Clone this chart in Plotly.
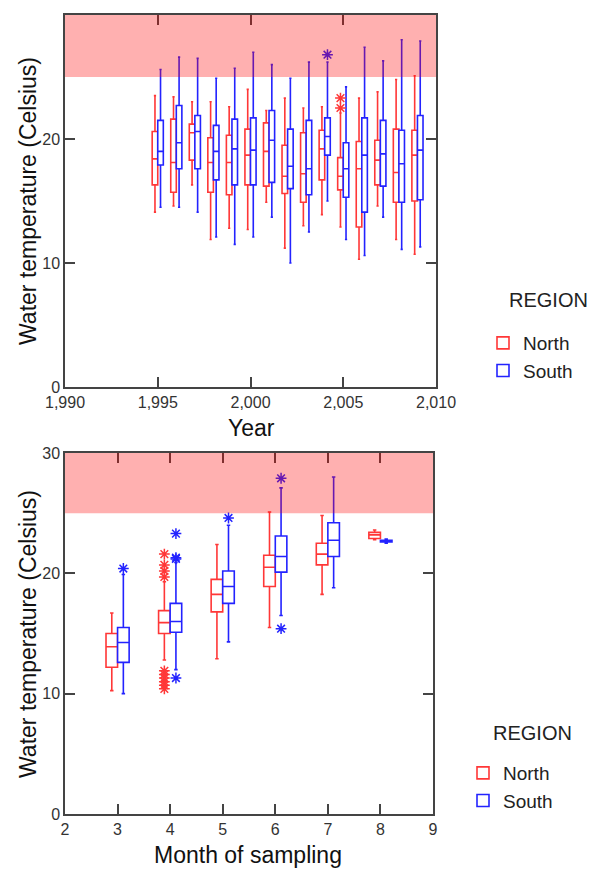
import plotly.graph_objects as go

# Year panel (1995-2009), box statistics
years = list(range(1995, 2010))
north_year_low = [14.1, 14.6, 16.3, 11.9, 12.8, 12.7, 14.9, 11.2, 13.0, 13.9, 12.9, 10.3, 14.6, 11.9, 10.7]
north_year_q1 = [16.3, 15.7, 18.3, 15.7, 15.5, 16.3, 16.2, 15.6, 14.9, 16.7, 15.9, 12.9, 16.3, 14.9, 15.0]
north_year_med = [18.4, 18.1, 20.5, 18.1, 18.1, 18.7, 19.0, 17.0, 17.2, 19.2, 17.0, 17.6, 18.3, 17.3, 18.7]
north_year_q3 = [20.6, 21.6, 21.2, 20.1, 20.3, 20.8, 21.3, 19.5, 20.5, 20.7, 18.5, 19.8, 19.9, 20.8, 20.7]
north_year_high = [23.5, 23.4, 23.0, 23.0, 22.6, 24.0, 22.3, 23.3, 22.5, 22.6, 22.1, 23.3, 23.8, 24.8, 25.1]

south_year_low = [14.5, 14.5, 14.1, 12.1, 11.5, 12.1, 13.7, 10.0, 12.5, 15.0, 11.9, 10.6, 13.7, 11.1, 11.3]
south_year_q1 = [17.9, 17.6, 17.6, 16.7, 16.3, 16.3, 16.5, 16.0, 15.5, 18.7, 15.3, 14.1, 16.2, 14.9, 15.1]
south_year_med = [19.0, 19.7, 20.6, 19.0, 19.2, 19.1, 19.9, 17.8, 17.6, 20.2, 17.6, 18.7, 18.8, 18.0, 19.1]
south_year_q3 = [21.5, 22.7, 21.9, 21.1, 21.6, 21.7, 22.3, 20.8, 21.5, 21.7, 19.7, 21.7, 21.5, 20.7, 21.9]
south_year_high = [25.6, 26.6, 26.5, 24.9, 25.7, 27.0, 26.0, 24.9, 26.2, 26.2, 24.2, 27.4, 26.3, 28.0, 27.9]

north_year_out_x = [2005, 2005]
north_year_out_y = [23.3, 22.5]
south_year_out_x = [2004]
south_year_out_y = [26.8]

# Month panel (3-8)
months = [3, 4, 5, 6, 7, 8]
north_month_low = [10.25, 12.8, 12.9, 15.5, 18.25, 22.8]
north_month_q1 = [12.2, 15.0, 16.8, 18.9, 20.7, 22.9]
north_month_med = [13.9, 15.9, 18.25, 20.5, 21.6, 23.2]
north_month_q3 = [15.0, 16.9, 19.5, 21.5, 22.5, 23.4]
north_month_high = [16.7, 19.3, 22.4, 25.1, 24.8, 23.6]

south_month_low = [10.0, 12.0, 14.3, 16.5, 18.8, 22.5]
south_month_q1 = [12.6, 15.1, 17.5, 20.1, 21.4, 22.6]
south_month_med = [14.25, 16.0, 18.9, 21.4, 22.75, 22.65]
south_month_q3 = [15.5, 17.5, 20.2, 23.1, 24.2, 22.75]
south_month_high = [19.9, 20.9, 24.0, 27.1, 28.0, 22.85]

north_month_out_x = [4, 4, 4, 4, 4, 4, 4, 4, 4, 4]
north_month_out_y = [21.6, 20.7, 20.2, 19.7, 11.9, 11.6, 11.3, 11.0, 10.7, 10.4]
south_month_out_x = [3, 4, 4, 4, 4, 5, 6, 6]
south_month_out_y = [20.4, 23.3, 21.3, 21.2, 11.3, 24.6, 27.9, 15.4]

RED = "rgb(255,55,55)"
BLUE = "rgb(35,35,255)"
FONT = "Liberation Sans"

fig = go.Figure()


def add_region(name, color, xs, low, q1, med, q3, high, out_x, out_y,
               offset, width, xa, ya, legend, cap):
    fig.add_trace(go.Box(
        x=[v + offset for v in xs], lowerfence=low, q1=q1, median=med,
        q3=q3, upperfence=high, name=name, width=width,
        line=dict(color=color, width=1.6), fillcolor="white",
        whiskerwidth=cap, boxpoints=False, xaxis=xa, yaxis=ya,
        legend=legend, hoverinfo="skip"))
    fig.add_trace(go.Scatter(
        x=[v + offset for v in out_x], y=out_y, mode="markers",
        marker=dict(symbol="asterisk-open", size=9, color=color,
                    line=dict(color=color, width=1.5)),
        showlegend=False, xaxis=xa, yaxis=ya, hoverinfo="skip"))


add_region("North", RED, years, north_year_low, north_year_q1, north_year_med,
           north_year_q3, north_year_high, north_year_out_x, north_year_out_y,
           -0.15, 0.3, "x", "y", "legend", 0.4)
add_region("South", BLUE, years, south_year_low, south_year_q1, south_year_med,
           south_year_q3, south_year_high, south_year_out_x, south_year_out_y,
           0.15, 0.3, "x", "y", "legend", 0.4)
add_region("North", RED, months, north_month_low, north_month_q1, north_month_med,
           north_month_q3, north_month_high, north_month_out_x, north_month_out_y,
           -0.11, 0.22, "x2", "y2", "legend2", 0.3)
add_region("South", BLUE, months, south_month_low, south_month_q1, south_month_med,
           south_month_q3, south_month_high, south_month_out_x, south_month_out_y,
           0.11, 0.22, "x2", "y2", "legend2", 0.3)

axis_style = dict(showgrid=False, zeroline=False, showline=True, linecolor="#444",
                  linewidth=1.5, ticks="inside", ticklen=10, tickwidth=1.5,
                  tickcolor="#444", mirror="ticks", automargin=False,
                  tickfont=dict(family=FONT, size=16, color="#333"))
legend_font = dict(family=FONT, size=19, color="#222")

W, H = 595, 869
PAGE_PAD = 8  # browser body margin around the plot div


def fx(px):
    return (px - PAGE_PAD) / W


def fy(py):
    return 1 - (py - PAGE_PAD) / H


def paper_text(text, px, py, size=20, angle=0, color="#222"):
    return dict(text=text, x=fx(px), y=fy(py), xref="paper", yref="paper",
                xanchor="center", yanchor="middle", showarrow=False,
                textangle=angle, font=dict(family=FONT, size=size, color=color))


fig.update_layout(
    width=W, height=H, margin=dict(l=0, r=0, t=0, b=0),
    paper_bgcolor="white", plot_bgcolor="white", boxmode="overlay",
    xaxis=dict(axis_style, domain=[fx(65), fx(436)], anchor="y",
               range=[1990, 2010], dtick=5, tickformat=",d"),
    yaxis=dict(axis_style, domain=[fy(387), fy(15)], anchor="x",
               range=[0, 30], dtick=10),
    xaxis2=dict(axis_style, domain=[fx(65), fx(433)], anchor="y2",
                range=[2, 9], dtick=1),
    yaxis2=dict(axis_style, domain=[fy(814), fy(453)], anchor="x2",
                range=[0, 30], dtick=10),
    legend=dict(x=fx(483), xanchor="left", y=fy(324), yanchor="top",
                font=legend_font, bgcolor="rgba(0,0,0,0)", itemclick=False),
    legend2=dict(x=fx(463), xanchor="left", y=fy(754), yanchor="top",
                 font=legend_font, bgcolor="rgba(0,0,0,0)", itemclick=False),
    annotations=[
        paper_text("REGION", 548, 300),
        paper_text("REGION", 532, 733),
        paper_text("Year", 251, 428, size=23, color="#111"),
        paper_text("Month of sampling", 248, 855, size=23, color="#111"),
        paper_text("Water temperature (Celsius)", 28, 201, size=23, angle=-90, color="#111"),
        paper_text("Water temperature (Celsius)", 28, 634, size=23, angle=-90, color="#111"),
    ],
    shapes=[
        dict(type="rect", xref="x domain", yref="y", x0=0, x1=1, y0=25, y1=30,
             fillcolor="rgba(255,0,0,0.31)", line=dict(width=0), layer="above"),
        dict(type="rect", xref="x2 domain", yref="y2", x0=0, x1=1, y0=25, y1=30,
             fillcolor="rgba(255,0,0,0.31)", line=dict(width=0), layer="above"),
    ],
)

fig.write_html("out.html")
